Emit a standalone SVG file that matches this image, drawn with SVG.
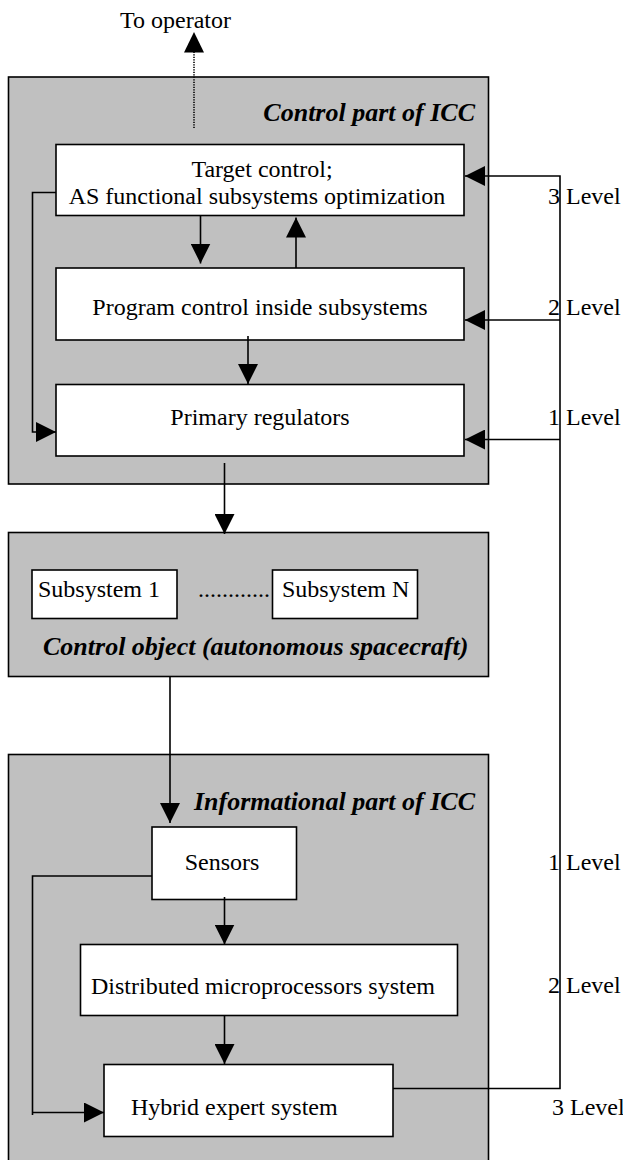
<svg xmlns="http://www.w3.org/2000/svg" width="623" height="1160" viewBox="0 0 623 1160">
<style>
.grey{fill:#c0c0c0;stroke:#000;stroke-width:1.6}
.box{fill:#fff;stroke:#000;stroke-width:1.6}
.t{font-family:"Liberation Serif","Times New Roman",serif;font-size:24px;fill:#000}
.c{text-anchor:middle}
.title{font-family:"Liberation Serif","Times New Roman",serif;font-size:26px;font-weight:bold;font-style:italic;fill:#000}
.ln{fill:none;stroke:#000;stroke-width:1.6}
.dot{fill:none;stroke:#000;stroke-width:1.6;stroke-dasharray:1.2 1.3}
</style>
<defs>
<marker id="ah" markerUnits="userSpaceOnUse" markerWidth="20" markerHeight="20" refX="20" refY="10" orient="auto" viewBox="0 0 20 20">
<path d="M0,0 L20,10 L0,20 z" fill="#000"/>
</marker>
</defs>
<g id="to-operator-label"><text class="t" x="120" y="28">To operator</text></g>
<g id="control-part">
<rect class="grey" x="8.5" y="77" width="480" height="407"/>
<text class="title" x="475" y="121" text-anchor="end">Control part of ICC</text>
</g>
<g id="target-control">
<rect class="box" x="56" y="144.5" width="408" height="71"/>
<text class="t c" x="262" y="177">Target control;</text>
<text class="t c" x="257" y="204">AS functional subsystems optimization</text>
</g>
<g id="program-control">
<rect class="box" x="56" y="268" width="408" height="72"/>
<text class="t c" x="260" y="315">Program control inside subsystems</text>
</g>
<g id="primary-regulators">
<rect class="box" x="56" y="384.5" width="408" height="71.5"/>
<text class="t c" x="260" y="425">Primary regulators</text>
</g>
<g id="control-object">
<rect class="grey" x="8.5" y="532.5" width="480" height="144"/>
<text class="title" x="43" y="655">Control object (autonomous spacecraft)</text>
</g>
<g id="subsystem-1">
<rect class="box" x="32" y="570" width="145" height="48.5"/>
<text class="t" x="38" y="597">Subsystem 1</text>
</g>
<g id="subsystem-dots"><text class="t" x="198" y="597">............</text></g>
<g id="subsystem-n">
<rect class="box" x="272.5" y="570" width="145" height="48.5"/>
<text class="t" x="282" y="597">Subsystem N</text>
</g>
<g id="informational-part">
<rect class="grey" x="8.5" y="754.5" width="480" height="420"/>
<text class="title" x="475" y="810" text-anchor="end">Informational part of ICC</text>
</g>
<g id="sensors">
<rect class="box" x="152" y="827" width="144.5" height="72.5"/>
<text class="t c" x="222" y="870">Sensors</text>
</g>
<g id="distributed">
<rect class="box" x="80.5" y="944.5" width="377" height="71"/>
<text class="t c" x="263" y="994">Distributed microprocessors system</text>
</g>
<g id="hybrid">
<rect class="box" x="104" y="1064.5" width="289" height="72"/>
<text class="t" x="131" y="1115">Hybrid expert system</text>
</g>
<g id="level-labels">
<text class="t" x="548" y="204">3 Level</text>
<text class="t" x="548" y="315">2 Level</text>
<text class="t" x="548" y="425">1 Level</text>
<text class="t" x="548" y="870">1 Level</text>
<text class="t" x="548" y="993">2 Level</text>
<text class="t" x="552" y="1115">3 Level</text>
</g>
<g id="connectors">
<line class="dot" x1="194" y1="128" x2="194" y2="50"/>
<path d="M184,52.5 L194,32 L204,52.5 z" fill="#000"/>
<line class="ln" x1="200.5" y1="216" x2="200.5" y2="263.5" marker-end="url(#ah)"/>
<line class="ln" x1="296" y1="268" x2="296" y2="217.5" marker-end="url(#ah)"/>
<line class="ln" x1="248" y1="336" x2="248" y2="384" marker-end="url(#ah)"/>
<polyline class="ln" points="56,192.5 32.5,192.5 32.5,432 56,432" marker-end="url(#ah)"/>
<line class="ln" x1="224.5" y1="463" x2="224.5" y2="534" marker-end="url(#ah)"/>
<line class="ln" x1="170" y1="677" x2="170" y2="823" marker-end="url(#ah)"/>
<line class="ln" x1="224.5" y1="897" x2="224.5" y2="944.5" marker-end="url(#ah)"/>
<line class="ln" x1="224.5" y1="1016" x2="224.5" y2="1064" marker-end="url(#ah)"/>
<polyline class="ln" points="152,876 32.5,876 32.5,1115"/>
<line class="ln" x1="32.5" y1="1112.5" x2="104" y2="1112.5" marker-end="url(#ah)"/>
<polyline class="ln" points="393,1088.5 560,1088.5 560,176 465,176" marker-end="url(#ah)"/>
<line class="ln" x1="560" y1="320" x2="465" y2="320" marker-end="url(#ah)"/>
<line class="ln" x1="560" y1="439.5" x2="465" y2="439.5" marker-end="url(#ah)"/>
</g>
</svg>
